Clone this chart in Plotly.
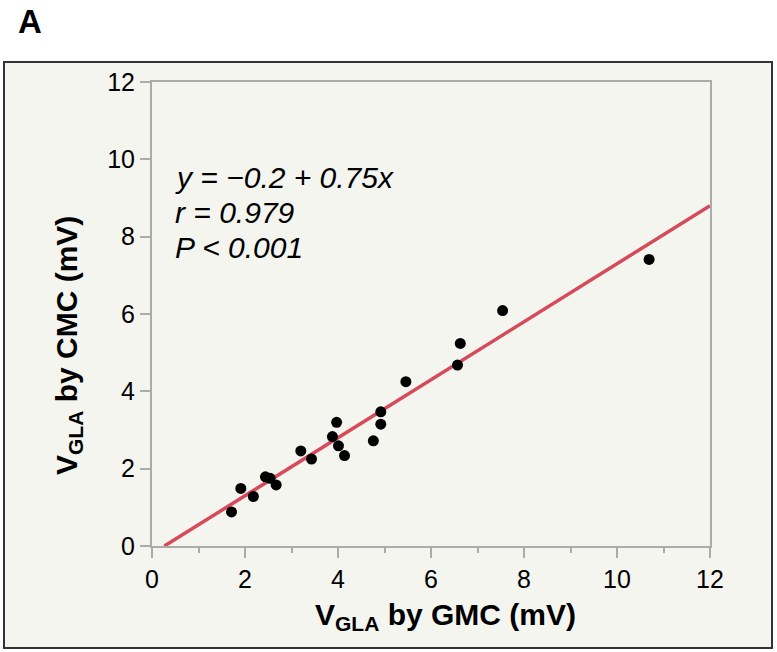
import plotly.graph_objects as go

# Paired V_GLA measurements (mV): GMC on x, CMC on y
gmc = [1.71, 1.91, 2.18, 2.44, 2.54, 2.67, 3.20, 3.43, 3.88, 3.97,
       4.01, 4.14, 4.76, 4.92, 4.92, 5.46, 6.57, 6.63, 7.54, 10.69]
cmc = [0.88, 1.49, 1.28, 1.79, 1.75, 1.58, 2.46, 2.25, 2.83, 3.20,
       2.59, 2.34, 2.72, 3.15, 3.47, 4.25, 4.68, 5.24, 6.09, 7.41]

# Regression results
intercept = -0.2
slope = 0.75
r_value = "0.979"
p_text = "P < 0.001"

tick_vals = [0, 2, 4, 6, 8, 10, 12]

# Fitted line from where it crosses y = 0 to the right edge of the axis
fit_x = [-intercept / slope, 12]
fit_y = [intercept + slope * v for v in fit_x]

W, H = 777, 652
L, R, T, B = 152, 67, 82, 106
pw, ph = W - L - R, H - T - B


def px(xp):
    return (xp - L) / pw


def py(yp):
    return (H - B - yp) / ph


AXIS_GREY = "#ababab"
FONT = "Liberation Sans, Arial, sans-serif"

fig = go.Figure()
fig.add_trace(go.Scatter(x=fit_x, y=fit_y, mode="lines",
                         line=dict(color="#d64a5a", width=3.5),
                         hoverinfo="skip", showlegend=False))
fig.add_trace(go.Scatter(x=gmc, y=cmc, mode="markers",
                         marker=dict(color="black", size=11),
                         showlegend=False))

axis_common = dict(
    range=[0, 12], tickvals=tick_vals, ticks="outside", ticklen=10,
    tickwidth=2, tickcolor=AXIS_GREY, showline=True, linecolor=AXIS_GREY,
    linewidth=2, mirror=True, showgrid=False, zeroline=False,
    tickfont=dict(family=FONT, size=25, color="black"),
)
fig.update_xaxes(**axis_common,
                 minor=dict(dtick=1, ticks="outside", ticklen=5,
                            tickwidth=2, tickcolor=AXIS_GREY, showgrid=False))
fig.update_yaxes(**axis_common)

# Light panel with a dark border around the whole chart
fig.add_shape(type="rect", xref="paper", yref="paper",
              x0=px(4), x1=px(772), y0=py(648), y1=py(62),
              fillcolor="#f5f5f0", line=dict(color="#333333", width=2),
              layer="below")

ann = []
ann.append(dict(text="<b>A</b>", x=px(30), y=py(22), xref="paper",
                yref="paper", showarrow=False, xanchor="center",
                yanchor="middle", font=dict(family=FONT, size=33,
                                            color="black")))
stats = [f"y = \u22120.2 + {slope}x", f"r = {r_value}", p_text]
stat_y = [177, 212, 248]
for txt, yy in zip(stats, stat_y):
    ann.append(dict(text=f"<i>{txt}</i>", x=px(173), y=py(yy),
                    xref="paper", yref="paper", showarrow=False,
                    xanchor="left", yanchor="middle",
                    font=dict(family=FONT, size=30, color="black")))
ann.append(dict(text="<b>V<sub>GLA</sub> by GMC (mV)</b>", x=px(445),
                y=py(616), xref="paper", yref="paper", showarrow=False,
                xanchor="center", yanchor="middle",
                font=dict(family=FONT, size=30, color="black")))
ann.append(dict(text="<b>V<sub>GLA</sub> by CMC (mV)</b>", x=px(68),
                y=py(346), xref="paper", yref="paper", showarrow=False,
                xanchor="center", yanchor="middle", textangle=-90,
                font=dict(family=FONT, size=30, color="black")))

fig.update_layout(
    width=W, height=H,
    margin=dict(l=L, r=R, t=T, b=B),
    paper_bgcolor="white", plot_bgcolor="white",
    annotations=ann, showlegend=False,
)

fig.write_html("out.html")
